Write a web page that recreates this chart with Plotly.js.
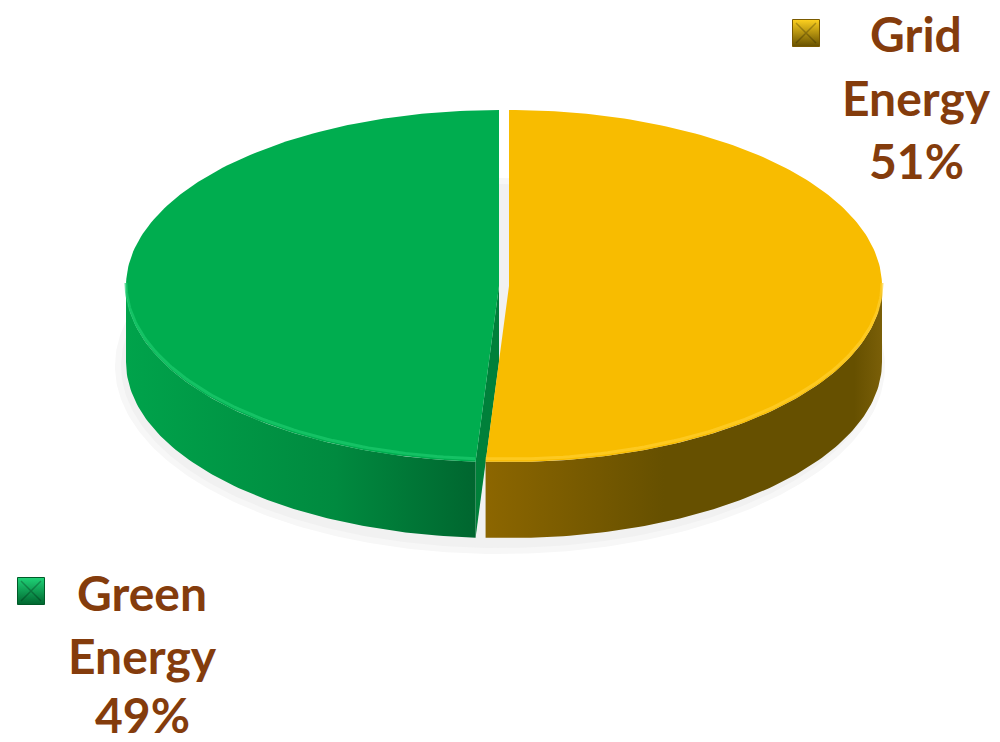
<!DOCTYPE html>
<html>
<head>
<meta charset="utf-8">
<script src="https://cdn.plot.ly/plotly-3.0.1.min.js"></script>
<style>html,body{margin:0;padding:0;background:#fff;}#chart{width:1000px;height:742px;}</style>
</head>
<body>
<div id="chart"></div>
<script>
// ---- data ----
var labels = ['Grid Energy', 'Green Energy'];
var labelLines = [['Grid', 'Energy'], ['Green', 'Energy']];
var values = [51, 49];
var topColors = ['#F8BC00', '#00AD4F'];
var sideColorsA = ['#8C6600', '#00A34B'];
var sideColorsB = ['#665000', '#00662F'];
var rimColors = ['#FFCF2E', '#1CCB6E'];

// ---- geometry (style) ----
var W = 1000, H = 742;
var cx = 504, cy = 286, rx = 373, ry = 176, depth = 76, explode = 5;
var total = values.reduce(function(a, b){return a + b;}, 0);

function pt(c, th, dy) {
  var r = th * Math.PI / 180;
  return [c + rx * Math.sin(r), cy - ry * Math.cos(r) + (dy || 0)];
}
function arc(c, a0, a1, dy) {
  var xs = [], ys = [], n = Math.max(2, Math.ceil(Math.abs(a1 - a0) / 1));
  for (var i = 0; i <= n; i++) {
    var p = pt(c, a0 + (a1 - a0) * i / n, dy);
    xs.push(p[0]); ys.push(p[1]);
  }
  return [xs, ys];
}

var traces = [];
// soft shadow
[[12, '#F7F7F7'], [6, '#F1F1F1']].forEach(function(s) {
  var xs = [], ys = [];
  for (var i = 0; i <= 360; i++) {
    var r = i * Math.PI / 180;
    xs.push(cx - 4 + (rx + s[0]) * Math.sin(r));
    ys.push(cy + depth + 4 - (ry + s[0]) * Math.cos(r));
  }
  traces.push({x: xs, y: ys, mode: 'lines', fill: 'toself', fillcolor: s[1], line: {width: 0}, hoverinfo: 'skip', showlegend: false});
});

// slices: clockwise from 12 o'clock
var angles = [];
var acc = 0;
for (var i = 0; i < values.length; i++) {
  var a0 = acc / total * 360;
  acc += values[i];
  var a1 = acc / total * 360;
  angles.push([a0, a1]);
}

var order = [1, 0]; // draw green first, then grid
order.forEach(function(i) {
  var a0 = angles[i][0], a1 = angles[i][1];
  var mid = (a0 + a1) / 2 * Math.PI / 180;
  var c = cx + explode * Math.sin(mid);
  // cut face (radius at start angle) for the left slice
  if (i === 1) {
    var pA = pt(c, a0, 0);
    traces.push({
      x: [c, pA[0], pA[0], c, c],
      y: [cy, pA[1], pA[1] + depth, cy + depth, cy],
      mode: 'lines', fill: 'toself', fillcolor: '#00803A', line: {width: 0}, hoverinfo: 'skip', showlegend: false
    });
  }
  // side wall (front visible part: 90..270)
  var s0 = Math.max(a0, 90), s1 = Math.min(a1, 270);
  if (s1 > s0) {
    var top = arc(c, s0, s1, 0), bot = arc(c, s1, s0, depth);
    var xs = top[0].concat(bot[0]), ys = top[1].concat(bot[1]);
    xs.push(xs[0]); ys.push(ys[0]);
    var xmin = Math.min.apply(null, xs), xmax = Math.max.apply(null, xs);
    var cs = i === 0
      ? [[0, sideColorsA[0]], [0.45, sideColorsB[0]], [0.93, sideColorsB[0]], [1, '#7A5F08']]
      : [[0, sideColorsA[1]], [0.6, '#008A3F'], [1, sideColorsB[1]]];
    traces.push({
      x: xs, y: ys, mode: 'lines', fill: 'toself',
      fillgradient: {type: 'horizontal', colorscale: cs, start: xmin, stop: xmax},
      line: {width: 0}, hoverinfo: 'skip', showlegend: false
    });
  }
  // top face
  var ta = arc(c, a0, a1, 0);
  var tx = [c].concat(ta[0]).concat([c]);
  var ty = [cy].concat(ta[1]).concat([cy]);
  traces.push({
    x: tx, y: ty, mode: 'lines', fill: 'toself', fillcolor: topColors[i],
    line: {width: 0}, hoverinfo: 'skip', showlegend: false, name: labels[i]
  });
  // rim highlight on front edge
  if (s1 > s0) {
    var rim = arc(c, s0, s1, -3);
    traces.push({x: rim[0], y: rim[1], mode: 'lines', line: {color: rimColors[i], width: 3}, opacity: 0.7, hoverinfo: 'skip', showlegend: false});
  }
});

// legend markers and label text (one annotation per line)
var labelX = [916, 142];
var labelLineY = [[33, 97, 160], [592, 655, 714]];
var markerPos = [[806, 33], [31, 591]];
var markerLine = ['#7A5A00', '#005A28'];
var markerBright = ['#FFD21F', '#1FD377'];
var annotations = [];
for (var k = 0; k < values.length; k++) {
  traces.push({
    x: [markerPos[k][0]], y: [markerPos[k][1]], mode: 'markers',
    marker: {symbol: 'square', size: 27, color: markerBright[k], line: {color: markerLine[k], width: 1},
             gradient: {type: 'vertical', color: sideColorsB[k]}},
    hoverinfo: 'skip', showlegend: false
  });
  traces.push({
    x: [markerPos[k][0]], y: [markerPos[k][1]], mode: 'markers',
    marker: {symbol: 'x-thin', size: 20, color: 'rgba(0,0,0,0)', line: {color: 'rgba(0,0,0,0.25)', width: 1.5}},
    hoverinfo: 'skip', showlegend: false
  });
  var lines = labelLines[k].concat([values[k] + '%']);
  for (var j = 0; j < lines.length; j++) {
    annotations.push({
      x: labelX[k], y: labelLineY[k][j], xref: 'x', yref: 'y',
      text: lines[j],
      showarrow: false, align: 'center', xanchor: 'center', yanchor: 'middle',
      font: {family: 'Lato, "Open Sans", sans-serif', size: 48, color: '#843C0C', weight: 'bold'}
    });
  }
}

var layout = {
  width: W, height: H,
  margin: {l: 0, r: 0, t: 0, b: 0},
  paper_bgcolor: '#fff', plot_bgcolor: '#fff',
  xaxis: {range: [0, W], visible: false, fixedrange: true},
  yaxis: {range: [H, 0], visible: false, fixedrange: true},
  showlegend: false,
  annotations: annotations
};
Plotly.newPlot('chart', traces, layout, {displayModeBar: false, staticPlot: true});
</script>
</body>
</html>
